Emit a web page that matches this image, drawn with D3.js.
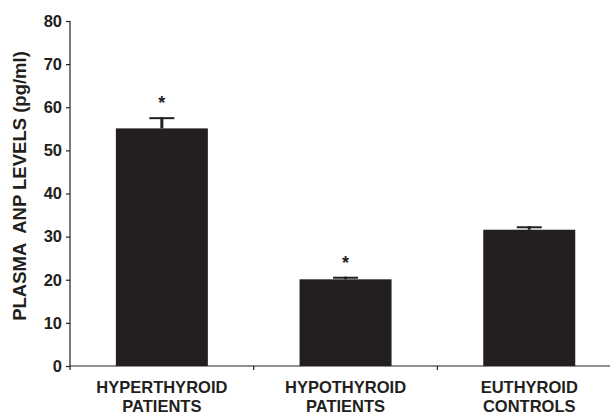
<!DOCTYPE html>
<html>
<head>
<meta charset="utf-8">
<script src="https://cdn.jsdelivr.net/npm/d3@7"></script>
<style>
  body { margin: 0; background: #fff; }
  text { font-family: "Liberation Sans", Arial, sans-serif; font-weight: bold; fill: #231f20; }
</style>
</head>
<body>
<svg id="chart" width="610" height="414"></svg>
<script>
// Plasma ANP levels by thyroid status
const categories = [["HYPERTHYROID", "PATIENTS"], ["HYPOTHYROID", "PATIENTS"], ["EUTHYROID", "CONTROLS"]];
const means = [55.1, 20.1, 31.6];
const errors = [2.6, 0.6, 0.8];
const significant = [true, true, false];
const yTicks = [0, 10, 20, 30, 40, 50, 60, 70, 80];

const svg = d3.select("#chart");
const ink = "#231f20";

const x0 = 70, yTop = 21, yBottom = 366, bandW = 183.7;
const x = d3.scaleBand()
  .domain(d3.range(categories.length))
  .range([x0, x0 + bandW * categories.length])
  .paddingInner(0).paddingOuter(0);
const y = d3.scaleLinear().domain([0, 80]).range([yBottom, yTop]);

const barW = 92;

// bars
svg.append("g").selectAll("rect")
  .data(means)
  .join("rect")
  .attr("x", (d, i) => x(i) + x.bandwidth() / 2 - barW / 2)
  .attr("y", d => y(d))
  .attr("width", barW)
  .attr("height", d => yBottom - y(d))
  .attr("fill", ink);

// error bars (upper half only)
const eb = svg.append("g");
means.forEach((m, i) => {
  const cx = x(i) + x.bandwidth() / 2;
  eb.append("line")
    .attr("x1", cx).attr("x2", cx)
    .attr("y1", y(m)).attr("y2", y(m + errors[i]))
    .attr("stroke", ink).attr("stroke-width", 3);
  eb.append("line")
    .attr("x1", cx - 12.5).attr("x2", cx + 12.5)
    .attr("y1", y(m + errors[i]) + 1).attr("y2", y(m + errors[i]) + 1)
    .attr("stroke", ink).attr("stroke-width", 2);
  if (significant[i]) {
    eb.append("text")
      .attr("x", cx)
      .attr("y", y(m + errors[i]) - 8)
      .attr("text-anchor", "middle")
      .attr("font-size", 18)
      .text("*");
  }
});

// y axis
const yAxis = svg.append("g")
  .attr("transform", `translate(${x0},0)`)
  .call(d3.axisLeft(y).tickValues(yTicks).tickSize(4).tickPadding(4));
yAxis.select(".domain").attr("stroke", ink).attr("stroke-width", 1.2)
  .attr("d", `M0,${yTop}V${yBottom}`);
yAxis.selectAll(".tick line").attr("stroke", ink).attr("stroke-width", 1.2);
yAxis.selectAll(".tick text").attr("font-size", 16.5).attr("fill", ink)
  .attr("font-family", "Liberation Sans, Arial, sans-serif").attr("font-weight", "bold");

// x axis
const xAxisG = svg.append("g").attr("transform", `translate(0,${yBottom})`);
xAxisG.append("line")
  .attr("x1", x0).attr("x2", 610)
  .attr("y1", 0).attr("y2", 0)
  .attr("stroke", ink).attr("stroke-width", 1.2);
xAxisG.selectAll("line.tk")
  .data(d3.range(1, categories.length))
  .join("line").attr("class", "tk")
  .attr("x1", i => x(i)).attr("x2", i => x(i))
  .attr("y1", 0).attr("y2", 4)
  .attr("stroke", ink).attr("stroke-width", 1.2);
xAxisG.append("line")
  .attr("x1", x0).attr("x2", x0).attr("y1", 0).attr("y2", 4)
  .attr("stroke", ink).attr("stroke-width", 1.2);

categories.forEach((lines, i) => {
  const t = xAxisG.append("text")
    .attr("x", x(i) + x.bandwidth() / 2)
    .attr("text-anchor", "middle")
    .attr("font-size", 16.5);
  lines.forEach((ln, j) => {
    t.append("tspan")
      .attr("x", x(i) + x.bandwidth() / 2)
      .attr("y", 26.5 + j * 19)
      .text(ln);
  });
});

// y label
svg.append("text")
  .attr("transform", `translate(26,186) rotate(-90)`)
  .attr("text-anchor", "middle")
  .attr("font-size", 18.5)
  .attr("xml:space", "preserve")
  .style("white-space", "pre")
  .text("PLASMA  ANP LEVELS (pg/ml)");
</script>
</body>
</html>
